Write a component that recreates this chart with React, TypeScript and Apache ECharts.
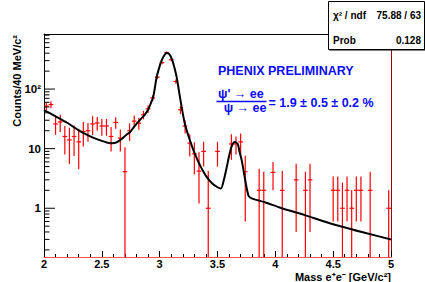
import React, { useEffect, useRef } from 'react';
import * as echarts from 'echarts';

// ---- data ----
const binX = [
  2.02, 2.06, 2.10, 2.14, 2.18, 2.22, 2.26, 2.30, 2.34, 2.38,
  2.42, 2.46, 2.50, 2.54, 2.58, 2.62, 2.66, 2.70, 2.74, 2.78,
  2.82, 2.86, 2.90, 2.94, 2.98, 3.02, 3.06, 3.10, 3.14, 3.18,
  3.22, 3.26, 3.30, 3.34, 3.38, 3.42, 3.50, 3.62, 3.66, 3.70,
  3.74, 3.86, 3.90, 3.98, 4.06, 4.18, 4.26, 4.30, 4.50, 4.54,
  4.58, 4.62, 4.66, 4.70, 4.74, 4.82, 4.98,
];
const counts = [
  52, 55, 26, 28, 16, 14, 16, 13, 19.4, 20,
  26, 27, 24, 24, 16, 27.6, 15, 4.1, 20, 29,
  26.8, 37, 46.7, 71, 159, 277, 408, 311, 134, 45,
  24, 12.4, 8.2, 4.2, 9, 1, 9, 12, 12, 13,
  4.1, 2, 2, 4, 2, 3, 2, 3, 2, 2,
  1, 2, 1, 2, 2, 2, 1,
];
const errLow = [
  7.5, 7.5, 9, 9, 8, 8.5, 8.5, 8.5, 8.5, 7,
  9, 7, 7.5, 7.5, 7, 6, 6, 6.5, 6.5, 7,
  6, 6, 7, 8, 12, 17, 20, 17, 11, 7,
  6, 5, 4.5, 3, 4, 1, 4, 5.5, 4, 5,
  3.5, 2.6, 2.1, 2, 2.2, 2.6, 2.1, 2.6, 1.4, 1.4,
  1.7, 1.4, 1, 1.4, 1.4, 2.1, 1,
];
const errHigh = [
  7.5, 7.5, 9, 9, 8, 8.5, 8.5, 8.5, 8.5, 7,
  9, 7, 7.5, 7.5, 7, 6, 6, 6.5, 6.5, 7,
  6, 6, 7, 8, 12, 17, 20, 17, 11, 7,
  6, 5, 4.5, 4.5, 4, 3.2, 4, 5.5, 4, 5,
  3.5, 2.6, 2.1, 2, 2.2, 2.6, 2.1, 2.6, 1.4, 1.4,
  1.7, 1.4, 1, 1.4, 1.4, 2.1, 1,
];
const fitX = [
  2.00, 2.10, 2.20, 2.30, 2.40, 2.50, 2.55, 2.59, 2.63, 2.67,
  2.71, 2.743, 2.78, 2.83, 2.87, 2.90, 2.916, 2.945, 2.974, 2.995,
  3.017, 3.04, 3.061, 3.083, 3.104, 3.125, 3.147, 3.168, 3.19, 3.218,
  3.262, 3.30, 3.35, 3.40, 3.45, 3.50, 3.53, 3.555, 3.58, 3.60,
  3.625, 3.65, 3.675, 3.69, 3.71, 3.73, 3.75, 3.77, 3.80, 3.85,
  3.91, 4.05, 4.26, 4.50, 4.79, 5.00,
];
const fitY = [
  44.4, 34.9, 27.2, 20.3, 16.1, 13.5, 12.6, 12.3, 12.8, 14.5,
  17, 18.9, 23.5, 30.5, 37, 45, 53, 75, 159, 225,
  302, 370, 405, 385, 323, 240, 159, 90, 50, 26,
  13.7, 8.6, 5.2, 3.5, 2.66, 2.25, 2.15, 3.0, 4.9, 7.5,
  11.3, 12.9, 12, 9, 6.3, 3.8, 2.3, 1.6, 1.45, 1.36,
  1.26, 1.01, 0.76, 0.54, 0.38, 0.30,
];
const yMajorTicks = [1, 10, 100];
const yTickLabels = ['1', '10', '10²'];
const yMinorTicks = [
  0.2, 0.3, 0.4, 0.5, 0.6, 0.7, 0.8, 0.9,
  2, 3, 4, 5, 6, 7, 8, 9,
  20, 30, 40, 50, 60, 70, 80, 90,
  200, 300, 400, 500, 600, 700, 800,
];
const xTickLabels = ['2', '2.5', '3', '3.5', '4', '4.5', '5'];
const statsRows = [
  ['χ² / ndf', '75.88 / 63'],
  ['Prob', '0.128'],
];

const X_MIN = 2;
const X_MAX = 5;
const X_INTERVAL = 0.5;
const Y_MIN = 0.152;
const Y_MAX = 840;
const BIN_WIDTH = 0.04;
const FONT = '"Liberation Sans", Arial, Helvetica, sans-serif';
const BLUE = '#0a0aff';

export default function App() {
  const ref = useRef<HTMLDivElement>(null);

  useEffect(() => {
    if (!ref.current) return;
    const chart = echarts.init(ref.current, null, { renderer: 'svg' });

    const errData = binX.map((x, i) => [
      x,
      counts[i],
      Math.max(counts[i] - errLow[i], Y_MIN),
      counts[i] + errHigh[i],
    ]);
    const tickData = [
      ...yMajorTicks.map((v) => [X_MIN, v, 11]),
      ...yMinorTicks.map((v) => [X_MIN, v, 5.5]),
    ];

    const boxText = (text: string, x: number, y: number, align: string) => ({
      type: 'text',
      x,
      y,
      z: 202,
      zlevel: 1,
      style: {
        text,
        font: `bold 10px ${FONT}`,
        fill: '#000',
        textAlign: align,
        textVerticalAlign: 'middle',
      },
    });

    const option: any = {
      animation: false,
      backgroundColor: '#fff',
      textStyle: { fontFamily: FONT },
      grid: { left: 44, right: 34, top: 34, bottom: 25, show: false },
      xAxis: [
        {
          type: 'value',
          min: X_MIN,
          max: X_MAX,
          interval: X_INTERVAL,
          position: 'bottom',
          axisLine: { show: true, onZero: false, lineStyle: { color: '#ff5050', width: 1 } },
          axisTick: { show: true, inside: true, length: 6, lineStyle: { color: '#000' } },
          minorTick: { show: true, splitNumber: 5, length: 3, lineStyle: { color: '#000' } },
          splitLine: { show: false },
          axisLabel: {
            margin: 1,
            color: '#000',
            fontFamily: FONT,
            fontWeight: 'bold',
            fontSize: 11,
            formatter: (v: number) => xTickLabels[Math.round((v - X_MIN) / X_INTERVAL)] ?? '',
          },
        },
        {
          type: 'value',
          min: X_MIN,
          max: X_MAX,
          position: 'top',
          axisLine: { show: true, onZero: false, lineStyle: { color: '#000', width: 1 } },
          axisTick: { show: false },
          axisLabel: { show: false },
          splitLine: { show: false },
        },
      ],
      yAxis: [
        {
          type: 'log',
          logBase: 10,
          min: Y_MIN,
          max: Y_MAX,
          position: 'left',
          axisLine: { show: true, onZero: false, lineStyle: { color: '#000', width: 1 } },
          axisTick: { show: false },
          splitLine: { show: false },
          axisLabel: {
            margin: 3,
            color: '#000',
            fontFamily: FONT,
            fontWeight: 'bold',
            fontSize: 11.5,
            formatter: (v: number) => {
              const i = yMajorTicks.findIndex((t) => Math.abs(t - v) / t < 1e-6);
              return i >= 0 ? yTickLabels[i] : '';
            },
          },
        },
        {
          type: 'log',
          logBase: 10,
          min: Y_MIN,
          max: Y_MAX,
          position: 'right',
          axisLine: { show: true, onZero: false, lineStyle: { color: '#a00000', width: 1 } },
          axisTick: { show: false },
          axisLabel: { show: false },
          splitLine: { show: false },
        },
      ],
      series: [
        {
          type: 'custom',
          name: 'ticks',
          xAxisIndex: 0,
          yAxisIndex: 0,
          encode: { x: 0, y: 1 },
          silent: true,
          z: 5,
          data: tickData,
          renderItem: (params: any, api: any) => {
            const p = api.coord([api.value(0), api.value(1)]);
            const len = api.value(2);
            return {
              type: 'line',
              shape: { x1: p[0], y1: p[1], x2: p[0] + len, y2: p[1] },
              style: { stroke: '#000', lineWidth: 1 },
            };
          },
        },
        {
          type: 'custom',
          name: 'data',
          xAxisIndex: 0,
          yAxisIndex: 0,
          encode: { x: 0, y: 1 },
          z: 3,
          data: errData,
          renderItem: (params: any, api: any) => {
            const x = api.value(0);
            const y = api.value(1);
            const c = api.coord([x, y]);
            const l = api.coord([x - BIN_WIDTH / 2, y]);
            const r = api.coord([x + BIN_WIDTH / 2, y]);
            const lo = api.coord([x, api.value(2)]);
            const hi = api.coord([x, api.value(3)]);
            return {
              type: 'group',
              children: [
                {
                  type: 'line',
                  shape: { x1: l[0], y1: c[1], x2: r[0], y2: c[1] },
                  style: { stroke: '#ff0000', lineWidth: 1.2 },
                },
                {
                  type: 'line',
                  shape: { x1: c[0], y1: hi[1], x2: c[0], y2: lo[1] },
                  style: { stroke: '#ff0000', lineWidth: 1.2 },
                },
              ],
            };
          },
        },
        {
          type: 'line',
          name: 'fit',
          xAxisIndex: 0,
          yAxisIndex: 0,
          z: 4,
          showSymbol: false,
          symbol: 'none',
          smooth: 0.25,
          lineStyle: { color: '#000', width: 2 },
          data: fitX.map((x, i) => [x, fitY[i]]),
        },
      ],
      graphic: [
        {
          type: 'text',
          x: 17,
          y: 35,
          rotation: Math.PI / 2,
          style: {
            text: 'Counts/40 MeV/c²',
            font: `bold 11px ${FONT}`,
            fill: '#000',
            textAlign: 'right',
            textVerticalAlign: 'middle',
          },
        },
        {
          type: 'text',
          x: 391,
          y: 277,
          style: {
            text: 'Mass e⁺e⁻ [GeV/c²]',
            font: `bold 11px ${FONT}`,
            fill: '#000',
            textAlign: 'right',
            textVerticalAlign: 'middle',
          },
        },
        {
          type: 'text',
          x: 218,
          y: 71,
          style: {
            text: 'PHENIX PRELIMINARY',
            font: `bold 12.5px ${FONT}`,
            fill: BLUE,
            textAlign: 'left',
            textVerticalAlign: 'middle',
          },
        },
        {
          type: 'text',
          x: 218,
          y: 94,
          style: {
            text: "ψ' → ee",
            font: `bold 12.5px ${FONT}`,
            fill: BLUE,
            textAlign: 'left',
            textVerticalAlign: 'middle',
          },
        },
        {
          type: 'line',
          shape: { x1: 216.5, y1: 101.5, x2: 266.5, y2: 101.5 },
          style: { stroke: BLUE, lineWidth: 1.5 },
        },
        {
          type: 'text',
          x: 266.5,
          y: 108,
          style: {
            text: 'ψ → ee',
            font: `bold 12.5px ${FONT}`,
            fill: BLUE,
            textAlign: 'right',
            textVerticalAlign: 'middle',
          },
        },
        {
          type: 'text',
          x: 268.5,
          y: 103,
          style: {
            text: '= 1.9 ± 0.5 ± 0.2 %',
            font: `bold 12.5px ${FONT}`,
            fill: BLUE,
            textAlign: 'left',
            textVerticalAlign: 'middle',
          },
        },
        {
          type: 'rect',
          z: 200,
          zlevel: 1,
          shape: { x: 329.5, y: 2.5, width: 96, height: 48 },
          style: { fill: '#000' },
        },
        {
          type: 'rect',
          z: 201,
          zlevel: 1,
          shape: { x: 328.5, y: 1.5, width: 96, height: 48 },
          style: { fill: '#fff', stroke: '#000', lineWidth: 1 },
        },
        ...statsRows.flatMap((row, i) => [
          boxText(row[0], 333, 15 + i * 25.5, 'left'),
          boxText(row[1], 421, 15 + i * 25.5, 'right'),
        ]),
      ],
    };

    chart.setOption(option);
    return () => chart.dispose();
  }, []);

  return (
    <div
      ref={ref}
      style={{ position: 'absolute', left: 0, top: 0, width: 425, height: 282 }}
    />
  );
}
